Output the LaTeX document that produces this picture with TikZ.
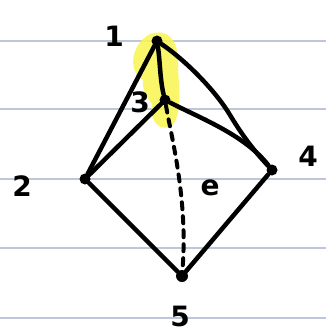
\documentclass[tikz,border=0pt]{standalone}
\usepackage{fontspec}
\setmainfont{DejaVu Sans}
\definecolor{rulecol}{RGB}{188,200,218}
\definecolor{hilite}{RGB}{250,245,80}
\begin{document}
\begin{tikzpicture}[x=1pt,y=-1pt,
  edge/.style={line width=4.5pt,line cap=round,line join=round},
  dashedge/.style={line width=4pt,dash pattern=on 7pt off 7pt,line cap=round},
  vtx/.style={circle,fill=black,inner sep=0pt,minimum size=11pt},
  lbl/.style={font=\bfseries\fontsize{28}{28}\selectfont,inner sep=0pt},
  ruling/.style={draw=rulecol,line width=1.2pt}]
\useasboundingbox (0,0) rectangle (326,332);
\fill[white] (0,0) rectangle (326,332);
\foreach \y in {41,109,179,248,318} \draw[ruling] (0,\y) -- (326,\y);
% highlight
\fill[hilite,opacity=0.85] (150,34) .. controls (168,28) and (178,40) .. (178,62)
  .. controls (178,85) and (184,118) .. (170,127) .. controls (156,131) and (150,118) .. (152,104)
  .. controls (145,95) and (142,88) .. (143,80) .. controls (128,72) and (130,45) .. (150,34) -- cycle;
\node[vtx] (n1) at (157,41) {};
\node[vtx] (n3) at (165,100) {};
\node[vtx] (n2) at (85,179) {};
\node[vtx] (n4) at (272,170) {};
\node[vtx,minimum size=12pt] (n5) at (182,276) {};
\draw[edge] (n1) -- (n2);
\draw[edge] (n1) .. controls (160,60) and (160,80) .. (n3);
\draw[edge] (n1) .. controls (185,60) and (215,90) .. (230,115) .. controls (245,140) and (258,155) .. (n4);
\draw[edge] (n3) -- (n2);
\draw[edge] (n3) .. controls (200,118) and (245,135) .. (n4);
\draw[edge] (n2) -- (n5);
\draw[edge] (n4) -- (n5);
\draw[dashedge] (n3) .. controls (172,140) and (188,200) .. (n5);
\node[lbl] (l1) at (114,36) {1};
\node[lbl] (l3) at (140,102) {3};
\node[lbl] (l2) at (22,186) {2};
\node[lbl] (l4) at (308,156) {4};
\node[lbl] (l5) at (180,316) {5};
\node[lbl] (le) at (210,188) {e};
\end{tikzpicture}
\end{document}
